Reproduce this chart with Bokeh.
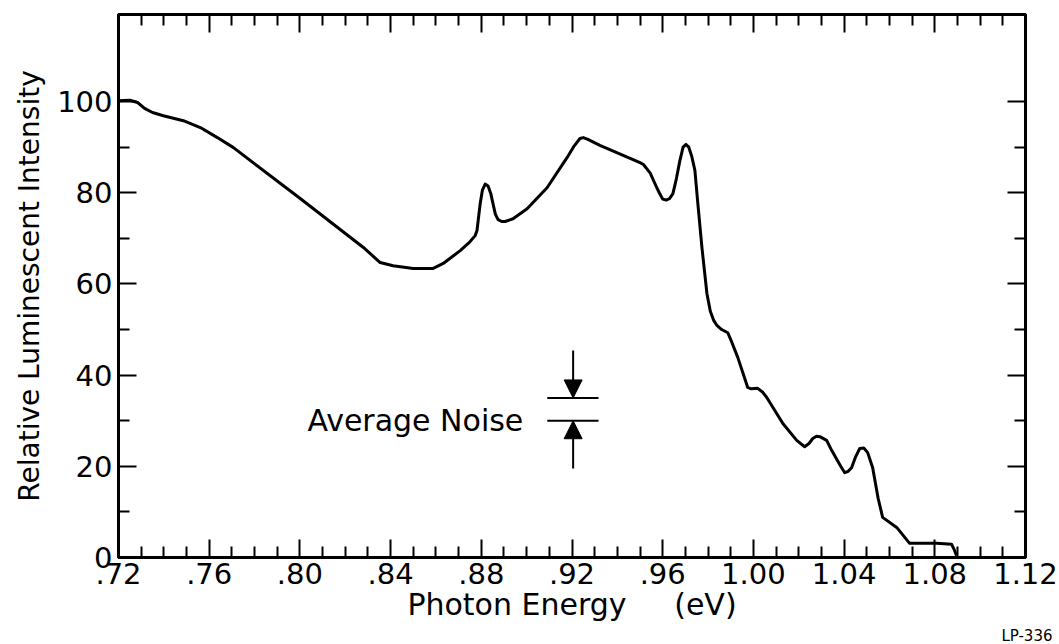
from bokeh.plotting import figure
from bokeh.models import Range1d, LinearAxis, FixedTicker, Arrow, NormalHead, Title
from bokeh.core.properties import value
from bokeh.embed import file_html
from bokeh.resources import INLINE

# ---- data ----
photon_energy = [0.720, 0.725, 0.7284, 0.7315, 0.735, 0.7398, 0.7486, 0.7561, 0.7636, 0.7707,
                 0.800, 0.828, 0.832, 0.8354, 0.8411, 0.850, 0.8588, 0.8632, 0.8707, 0.8745,
                 0.8773, 0.8781, 0.8795, 0.8805, 0.8817, 0.8830, 0.8842, 0.8852, 0.8862,
                 0.8874, 0.8890, 0.8905, 0.894, 0.9002, 0.909, 0.9178, 0.9210, 0.9235,
                 0.9250, 0.9270, 0.9323, 0.950, 0.9515, 0.9545, 0.9574, 0.9585, 0.9600,
                 0.9615, 0.9630, 0.9645, 0.9660, 0.9676, 0.9690, 0.9703, 0.9715, 0.9728,
                 0.9742, 0.9755, 0.9773, 0.9795, 0.9810, 0.9825, 0.9839, 0.9860, 0.9887,
                 0.9900, 0.9931, 0.9975, 0.9990, 1.0019, 1.0040, 1.0059, 1.013, 1.0191,
                 1.0226, 1.0245, 1.0262, 1.0278, 1.0293, 1.0323, 1.0345, 1.0385, 1.0403,
                 1.0418, 1.0433, 1.0450, 1.0469, 1.0487, 1.0504, 1.0526, 1.0550, 1.057,
                 1.0632, 1.0689, 1.0808, 1.0874, 1.0885, 1.0896]
intensity = [100.2, 100.3, 99.8, 98.5, 97.6, 96.9, 95.8, 94.3, 92.1, 89.9,
             78.8, 68.0, 66.2, 64.7, 64.0, 63.4, 63.4, 64.5, 67.3, 69.0,
             70.6, 71.7, 77.6, 80.6, 81.9, 81.5, 79.8, 77.5, 75.3,
             74.1, 73.7, 73.7, 74.3, 76.5, 81.1, 87.7, 90.3, 91.9,
             92.1, 91.7, 90.4, 86.6, 86.2, 84.3, 81.1, 80.0, 78.6,
             78.4, 78.7, 79.8, 83.0, 87.1, 90.0, 90.6, 90.0, 88.0,
             84.9, 77.6, 68.0, 57.9, 54.0, 52.0, 50.9, 50.0, 49.3,
             47.8, 43.9, 37.3, 37.0, 37.1, 36.3, 35.1, 29.4, 25.7,
             24.3, 25.0, 26.1, 26.6, 26.5, 25.7, 23.5, 20.0, 18.6,
             18.9, 19.7, 22.0, 23.9, 24.0, 23.0, 19.7, 13.0, 8.8,
             6.6, 3.1, 3.1, 2.9, 1.8, 0.4]

x_major_ticks = [0.72, 0.76, 0.80, 0.84, 0.88, 0.92, 0.96, 1.00, 1.04, 1.08, 1.12]
x_tick_labels = [".72", ".76", ".80", ".84", ".88", ".92", ".96", "1.00", "1.04", "1.08", "1.12"]
y_major_ticks = [0, 20, 40, 60, 80, 100]
y_minor_ticks = [10, 30, 50, 70, 90]

noise_x = 0.9205
noise_left = 0.9091
noise_right = 0.9317
noise_low = 30.0
noise_high = 35.0
arrow_top_start = 45.4
arrow_bottom_start = 19.5
noise_text = "Average Noise"
noise_text_x = 0.8033

figure_id = "LP-336"

x_range = (0.72, 1.12)
y_range = (0, 119.1)

FONT = "DejaVu Sans"

x_minor_ticks = [round(0.72 + 0.01 * i, 2) for i in range(41)]
x_minor_ticks = [t for t in x_minor_ticks if all(abs(t - m) > 1e-6 for m in x_major_ticks)]

p = figure(width=1059, height=644, output_backend="svg", toolbar_location=None,
           x_range=Range1d(*x_range), y_range=Range1d(*y_range),
           x_axis_location=None, y_axis_location=None,
           min_border_left=118, min_border_right=34, min_border_top=14, min_border_bottom=87)
p.grid.visible = False
p.outline_line_color = "black"
p.outline_line_width = 3
p.background_fill_color = "white"
p.border_fill_color = "white"


def style_axis(ax, show_labels, ticks):
    ax.axis_line_width = 3
    ax.axis_line_color = "black"
    ax.major_tick_in = 18
    ax.major_tick_out = 0
    ax.minor_tick_in = 11
    ax.minor_tick_out = 0
    ax.major_tick_line_width = 2
    ax.minor_tick_line_width = 2
    ax.major_tick_line_color = "black"
    ax.minor_tick_line_color = "black"
    if show_labels:
        ax.major_label_text_font = FONT
        ax.major_label_text_font_size = "29px"
        ax.major_label_text_color = "black"
        ax.axis_label_text_font = FONT
        ax.axis_label_text_font_size = "30px"
        ax.axis_label_text_font_style = "normal"
        ax.axis_label_text_color = "black"
    else:
        ax.major_label_overrides = {t: "" for t in ticks}


xb = LinearAxis(ticker=FixedTicker(ticks=x_major_ticks, minor_ticks=x_minor_ticks))
xb.major_label_overrides = {x: lab for x, lab in zip(x_major_ticks, x_tick_labels)}
xb.axis_label = "Photon Energy\u00a0\u00a0\u00a0\u00a0\u00a0(eV)"
style_axis(xb, True, x_major_ticks)
xb.major_label_standoff = 5
xb.axis_label_standoff = 0
p.add_layout(xb, "below")

xt = LinearAxis(ticker=FixedTicker(ticks=x_major_ticks, minor_ticks=x_minor_ticks))
style_axis(xt, False, x_major_ticks)
p.add_layout(xt, "above")

yl = LinearAxis(ticker=FixedTicker(ticks=y_major_ticks, minor_ticks=y_minor_ticks))
yl.axis_label = "Relative Luminescent Intensity"
style_axis(yl, True, y_major_ticks)
yl.axis_label_text_font_size = "28px"
yl.major_label_standoff = 6
yl.axis_label_standoff = 8
p.add_layout(yl, "left")

yr = LinearAxis(ticker=FixedTicker(ticks=y_major_ticks, minor_ticks=y_minor_ticks))
style_axis(yr, False, y_major_ticks)
p.add_layout(yr, "right")

p.add_layout(Title(text=figure_id, align="right", text_font=FONT, text_font_size="15px",
                   text_font_style="normal", text_color="black", standoff=0, offset=-27),
             "below")

p.line(photon_energy, intensity, line_color="black", line_width=3, line_join="round")

# noise indicator
p.segment(x0=[noise_left, noise_left], y0=[noise_high, noise_low],
          x1=[noise_right, noise_right], y1=[noise_high, noise_low],
          line_color="black", line_width=2)
p.add_layout(Arrow(end=NormalHead(size=18, fill_color="black", line_color="black"),
                   x_start=noise_x, y_start=arrow_top_start, x_end=noise_x, y_end=noise_high,
                   line_width=2, line_color="black"))
p.add_layout(Arrow(end=NormalHead(size=18, fill_color="black", line_color="black"),
                   x_start=noise_x, y_start=arrow_bottom_start, x_end=noise_x, y_end=noise_low,
                   line_width=2, line_color="black"))
p.text(x=[noise_text_x], y=[noise_low], text=[noise_text], text_font=value(FONT),
       text_font_size="30px", text_baseline="alphabetic", text_align="left", text_color="black")

open("out.html", "w").write(file_html(p, INLINE))
